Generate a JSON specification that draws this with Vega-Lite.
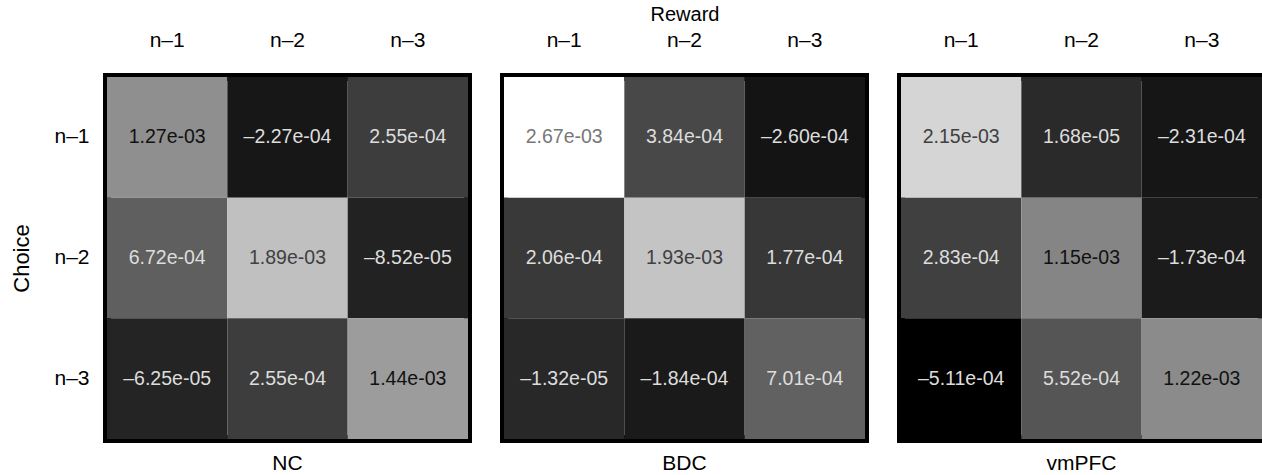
{
  "$schema": "https://vega.github.io/schema/vega-lite/v6.json",
  "padding": {"left": 6, "top": 0, "right": 0, "bottom": 0},
  "background": "white",
  "config": {
    "font": "Liberation Sans",
    "view": {"stroke": "black", "strokeWidth": 8},
    "concat": {"spacing": 28},
    "axis": {"labelFont": "Liberation Sans", "titleFont": "Liberation Sans", "labelColor": "black", "titleColor": "black", "titleFontWeight": "normal", "labelFontSize": 21, "titleFontSize": 20, "domain": false, "ticks": false, "grid": false},
    "title": {"font": "Liberation Sans", "fontSize": 21, "fontWeight": "normal", "color": "black", "orient": "bottom", "offset": 14}
  },
  "datasets": {
    "cells": [
      {"region": "NC", "choice": "n–1", "reward": "n–1", "value": 0.00127, "label": "1.27e-03"},
      {"region": "NC", "choice": "n–1", "reward": "n–2", "value": -0.000227, "label": "–2.27e-04"},
      {"region": "NC", "choice": "n–1", "reward": "n–3", "value": 0.000255, "label": "2.55e-04"},
      {"region": "NC", "choice": "n–2", "reward": "n–1", "value": 0.000672, "label": "6.72e-04"},
      {"region": "NC", "choice": "n–2", "reward": "n–2", "value": 0.00189, "label": "1.89e-03"},
      {"region": "NC", "choice": "n–2", "reward": "n–3", "value": -0.0000852, "label": "–8.52e-05"},
      {"region": "NC", "choice": "n–3", "reward": "n–1", "value": -0.0000625, "label": "–6.25e-05"},
      {"region": "NC", "choice": "n–3", "reward": "n–2", "value": 0.000255, "label": "2.55e-04"},
      {"region": "NC", "choice": "n–3", "reward": "n–3", "value": 0.00144, "label": "1.44e-03"},
      {"region": "BDC", "choice": "n–1", "reward": "n–1", "value": 0.00267, "label": "2.67e-03"},
      {"region": "BDC", "choice": "n–1", "reward": "n–2", "value": 0.000384, "label": "3.84e-04"},
      {"region": "BDC", "choice": "n–1", "reward": "n–3", "value": -0.00026, "label": "–2.60e-04"},
      {"region": "BDC", "choice": "n–2", "reward": "n–1", "value": 0.000206, "label": "2.06e-04"},
      {"region": "BDC", "choice": "n–2", "reward": "n–2", "value": 0.00193, "label": "1.93e-03"},
      {"region": "BDC", "choice": "n–2", "reward": "n–3", "value": 0.000177, "label": "1.77e-04"},
      {"region": "BDC", "choice": "n–3", "reward": "n–1", "value": -0.0000132, "label": "–1.32e-05"},
      {"region": "BDC", "choice": "n–3", "reward": "n–2", "value": -0.000184, "label": "–1.84e-04"},
      {"region": "BDC", "choice": "n–3", "reward": "n–3", "value": 0.000701, "label": "7.01e-04"},
      {"region": "vmPFC", "choice": "n–1", "reward": "n–1", "value": 0.00215, "label": "2.15e-03"},
      {"region": "vmPFC", "choice": "n–1", "reward": "n–2", "value": 0.0000168, "label": "1.68e-05"},
      {"region": "vmPFC", "choice": "n–1", "reward": "n–3", "value": -0.000231, "label": "–2.31e-04"},
      {"region": "vmPFC", "choice": "n–2", "reward": "n–1", "value": 0.000283, "label": "2.83e-04"},
      {"region": "vmPFC", "choice": "n–2", "reward": "n–2", "value": 0.00115, "label": "1.15e-03"},
      {"region": "vmPFC", "choice": "n–2", "reward": "n–3", "value": -0.000173, "label": "–1.73e-04"},
      {"region": "vmPFC", "choice": "n–3", "reward": "n–1", "value": -0.000511, "label": "–5.11e-04"},
      {"region": "vmPFC", "choice": "n–3", "reward": "n–2", "value": 0.000552, "label": "5.52e-04"},
      {"region": "vmPFC", "choice": "n–3", "reward": "n–3", "value": 0.00122, "label": "1.22e-03"}
    ]
  },
  "hconcat": [
    {
      "title": "NC",
      "width": 361, "height": 362,
      "data": {"name": "cells"},
      "transform": [{"filter": "datum.region === 'NC'"}],
      "encoding": {
        "x": {"field": "reward", "type": "nominal", "sort": ["n–1", "n–2", "n–3"], "scale": {"paddingInner": 0, "paddingOuter": 0}, "axis": {"orient": "top", "title": null, "labelAngle": 0, "labelPadding": 27}},
        "y": {"field": "choice", "type": "nominal", "sort": ["n–1", "n–2", "n–3"], "scale": {"paddingInner": 0, "paddingOuter": 0}, "axis": {"title": "Choice", "titleFontSize": 22, "labelPadding": 18, "titlePadding": 20}}
      },
      "layer": [
        {"mark": {"type": "rect"}, "encoding": {"color": {"field": "value", "type": "quantitative", "scale": {"domain": [-0.000511, 0.00267], "range": ["#000000", "#ffffff"], "interpolate": "rgb"}, "legend": null}}},
        {"mark": {"type": "text", "fontSize": 19.5, "font": "Liberation Sans"}, "encoding": {"text": {"field": "label"}, "color": {"condition": [{"test": "datum.value >= 0.0025", "value": "#777777"}, {"test": "datum.value >= 0.0018", "value": "#404040"}, {"test": "datum.value >= 0.001", "value": "#111111"}], "value": "#dddddd"}}}
      ]
    },
    {
      "title": "BDC",
      "width": 361, "height": 362,
      "data": {"name": "cells"},
      "transform": [{"filter": "datum.region === 'BDC'"}],
      "encoding": {
        "x": {"field": "reward", "type": "nominal", "sort": ["n–1", "n–2", "n–3"], "scale": {"paddingInner": 0, "paddingOuter": 0}, "axis": {"orient": "top", "title": "Reward", "labelAngle": 0, "labelPadding": 27, "titlePadding": 5}},
        "y": {"field": "choice", "type": "nominal", "sort": ["n–1", "n–2", "n–3"], "scale": {"paddingInner": 0, "paddingOuter": 0}, "axis": null}
      },
      "layer": [
        {"mark": {"type": "rect"}, "encoding": {"color": {"field": "value", "type": "quantitative", "scale": {"domain": [-0.000511, 0.00267], "range": ["#000000", "#ffffff"], "interpolate": "rgb"}, "legend": null}}},
        {"mark": {"type": "text", "fontSize": 19.5, "font": "Liberation Sans"}, "encoding": {"text": {"field": "label"}, "color": {"condition": [{"test": "datum.value >= 0.0025", "value": "#777777"}, {"test": "datum.value >= 0.0018", "value": "#404040"}, {"test": "datum.value >= 0.001", "value": "#111111"}], "value": "#dddddd"}}}
      ]
    },
    {
      "title": "vmPFC",
      "width": 361, "height": 362,
      "data": {"name": "cells"},
      "transform": [{"filter": "datum.region === 'vmPFC'"}],
      "encoding": {
        "x": {"field": "reward", "type": "nominal", "sort": ["n–1", "n–2", "n–3"], "scale": {"paddingInner": 0, "paddingOuter": 0}, "axis": {"orient": "top", "title": null, "labelAngle": 0, "labelPadding": 27}},
        "y": {"field": "choice", "type": "nominal", "sort": ["n–1", "n–2", "n–3"], "scale": {"paddingInner": 0, "paddingOuter": 0}, "axis": null}
      },
      "layer": [
        {"mark": {"type": "rect"}, "encoding": {"color": {"field": "value", "type": "quantitative", "scale": {"domain": [-0.000511, 0.00267], "range": ["#000000", "#ffffff"], "interpolate": "rgb"}, "legend": null}}},
        {"mark": {"type": "text", "fontSize": 19.5, "font": "Liberation Sans"}, "encoding": {"text": {"field": "label"}, "color": {"condition": [{"test": "datum.value >= 0.0025", "value": "#777777"}, {"test": "datum.value >= 0.0018", "value": "#404040"}, {"test": "datum.value >= 0.001", "value": "#111111"}], "value": "#dddddd"}}}
      ]
    }
  ]
}
